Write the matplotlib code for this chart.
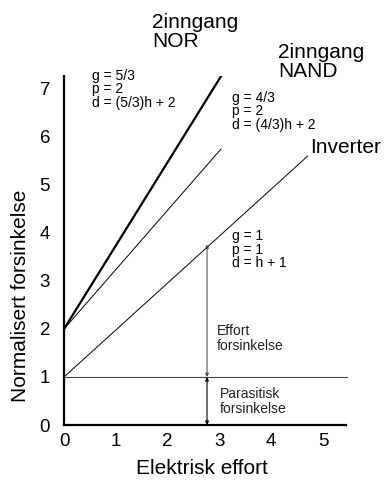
import matplotlib
matplotlib.use("Agg")
import matplotlib.pyplot as plt

plt.rcParams['font.family'] = ['Liberation Sans', 'DejaVu Sans']

# data
nor_h = [0.0, 3.05]
nor_d = [2.0, 7.3]
nand_h = [0.0, 3.03]
nand_d = [2.0, 5.75]
inv_h = [0.0, 4.7]
inv_d = [1.0, 5.6]
parasitic_level = 1.0
arrow_h = 2.76
effort_top = 3.76
xticks = [0, 1, 2, 3, 4, 5]
yticks = [0, 1, 2, 3, 4, 5, 6, 7]

W, H = 386, 482
fig = plt.figure(figsize=(W / 100, H / 100), dpi=100)
ax = fig.add_axes([64 / W, 1 - 425 / H, (348 - 64) / W, (425 - 76) / H])
ax.set_xlim(0, 5.48)
ax.set_ylim(0, 7.27)

ax.plot(nor_h, nor_d, color='black', lw=1.6, solid_capstyle='butt')
ax.plot(nand_h, nand_d, color='black', lw=0.7)
ax.plot(inv_h, inv_d, color='black', lw=0.7)
ax.axhline(parasitic_level, color='#444444', lw=0.8)

for s in ['top', 'right']:
    ax.spines[s].set_visible(False)
ax.spines['left'].set_linewidth(1.6)
ax.spines['bottom'].set_linewidth(1.6)
ax.spines['bottom'].set_bounds(0, 5.44)

ax.set_xticks(xticks)
ax.set_yticks(yticks)
ax.tick_params(length=0, labelsize=13.5)
ax.tick_params(axis='x', pad=6)
ax.tick_params(axis='y', pad=10)

# arrows
ax.annotate('', xy=(arrow_h, effort_top), xytext=(arrow_h, parasitic_level),
            arrowprops=dict(arrowstyle='<|-|>', color='#444444', lw=0.7,
                            mutation_scale=5, shrinkA=0, shrinkB=0))
ax.annotate('', xy=(arrow_h, parasitic_level), xytext=(arrow_h, 0),
            arrowprops=dict(arrowstyle='<|-|>', color='black', lw=0.8,
                            mutation_scale=5, shrinkA=0, shrinkB=0))

# texts
ax.text(1.70, 8.58, '2inngang\nNOR', fontsize=15, ha='left', va='top',
        linespacing=1.0, clip_on=False)
ax.text(4.13, 7.96, '2inngang\nNAND', fontsize=15, ha='left', va='top',
        linespacing=1.0, clip_on=False)
ax.text(4.75, 5.79, 'Inverter', fontsize=15, ha='left', va='center',
        clip_on=False)

ax.text(0.54, 7.42, 'g = 5/3\np = 2\nd = (5/3)h + 2', fontsize=10,
        ha='left', va='top', linespacing=0.95, clip_on=False)
ax.text(3.24, 6.96, 'g = 4/3\np = 2\nd = (4/3)h + 2', fontsize=10,
        ha='left', va='top', linespacing=0.95)
ax.text(3.24, 4.08, 'g = 1\np = 1\nd = h + 1', fontsize=10,
        ha='left', va='top', linespacing=0.95)
ax.text(2.95, 2.1, 'Effort\nforsinkelse', fontsize=10, ha='left', va='top',
        linespacing=1.1, color='#222222')
ax.text(3.0, 0.8, 'Parasitisk\nforsinkelse', fontsize=10, ha='left',
        va='top', linespacing=1.1, color='#222222')

fig.text(202 / W, 1 - 468 / H, 'Elektrisk effort', fontsize=15,
         ha='center', va='center')
fig.text(21 / W, 1 - 296 / H, 'Normalisert forsinkelse', fontsize=15,
         ha='center', va='center', rotation=90)

fig.savefig('out.png', dpi=100)
